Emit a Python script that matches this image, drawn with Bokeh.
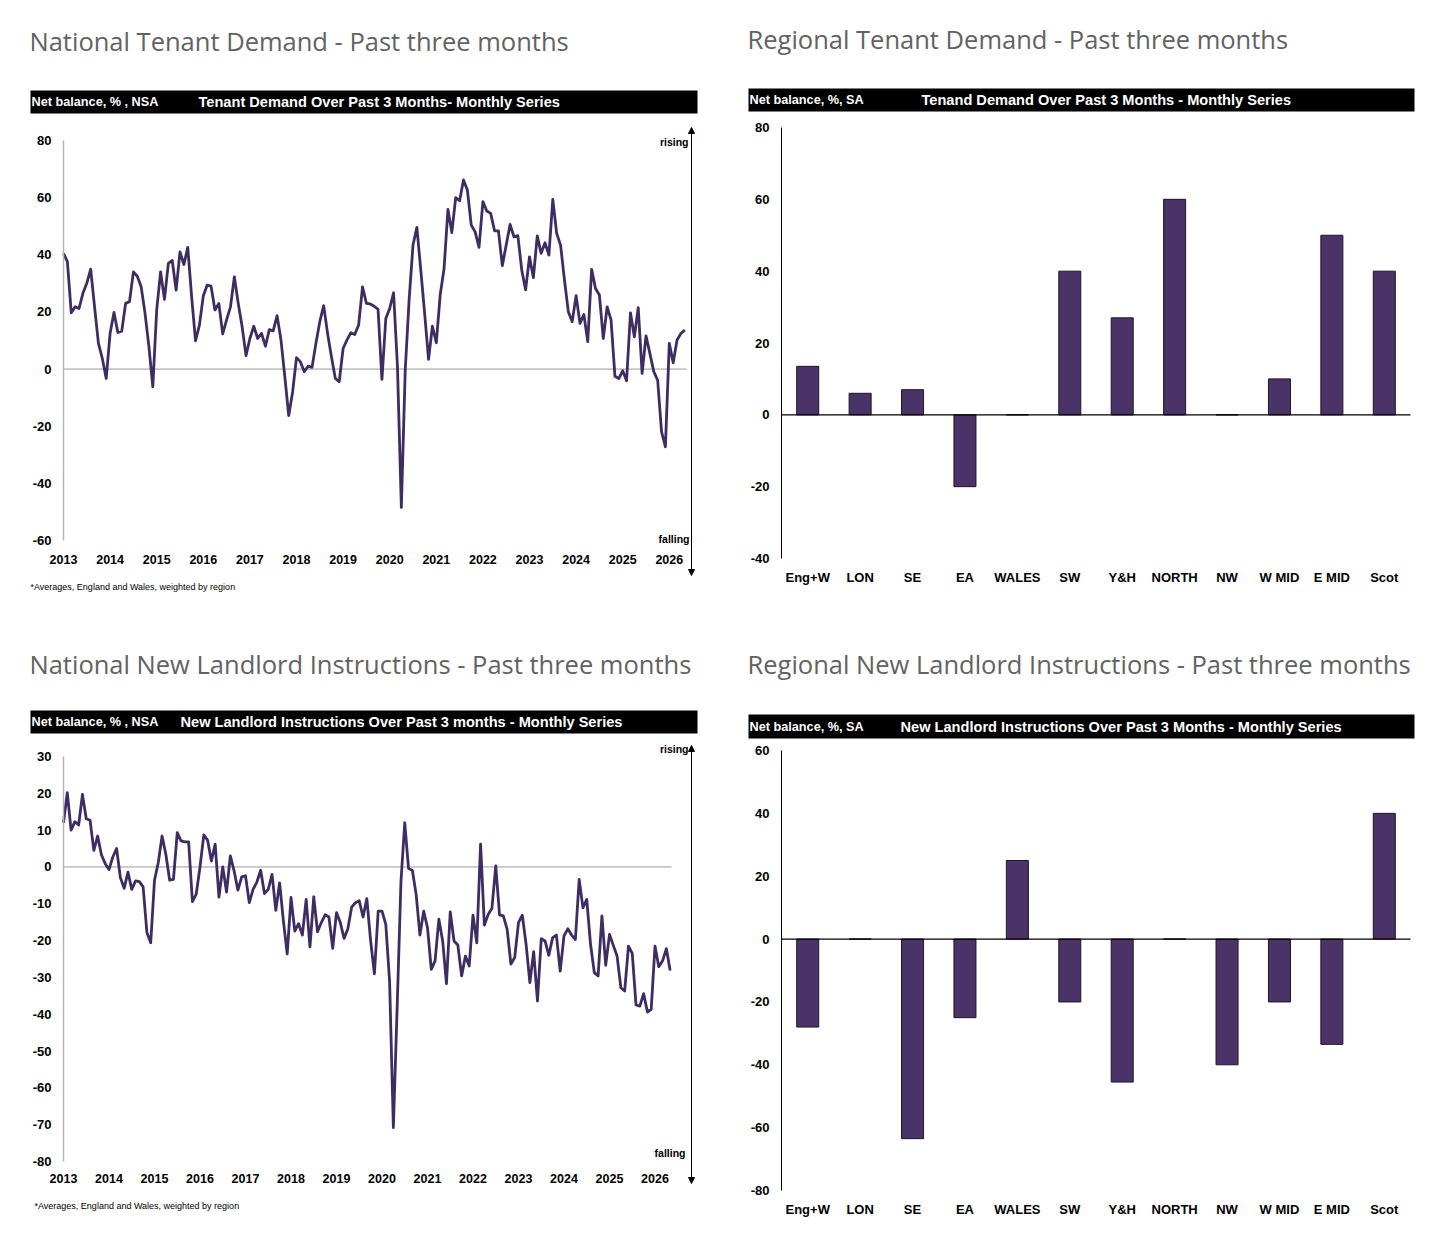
from bokeh.plotting import figure
from bokeh.layouts import column, row
from bokeh.models import (Range1d, FixedTicker, Label, BoxAnnotation, Arrow,
                          NormalHead)
from bokeh.embed import file_html
from bokeh.resources import INLINE

# ---------------------------------------------------------------- data
start_year = 2013
year_ticks = list(range(2013, 2027))

# Tenant demand over past 3 months, net balance %, NSA (monthly from Jan 2013)
tenant_demand = [
    40.5, 37.6, 19.7, 21.8, 21.2, 26.5, 30.0, 35.0, 21.8, 9.0, 3.7, -3.3,
    12.5, 19.8, 12.8, 13.3, 23.0, 23.6, 34.0, 32.5, 28.8, 19.5, 7.8, -6.2,
    20.7, 34.0, 24.4, 37.0, 38.0, 27.6, 41.0, 36.6, 42.6, 25.3, 9.9, 15.4,
    25.6, 29.4, 29.0, 20.7, 23.0, 12.3, 17.2, 21.8, 32.3, 23.0, 14.8, 4.7,
    10.7, 15.0, 10.7, 12.5, 8.0, 13.8, 13.4, 18.7, 10.2, -2.7, -16.3, -8.0,
    4.0, 2.6, -0.9, 1.0, 0.6, 9.0, 16.6, 22.2, 12.5, 4.3, -3.3, -4.4,
    7.2, 10.2, 12.7, 12.1, 15.4, 28.8, 23.0, 22.8, 22.0, 20.9, -3.6, 17.7,
    21.2, 26.7, 0.8, -48.4, -0.4, 24.2, 43.4, 49.6, 34.7, 19.5, 3.4, 15.0,
    9.2, 25.9, 35.2, 55.9, 47.8, 60.0, 58.9, 66.2, 62.7, 50.4, 48.0, 42.6,
    58.6, 55.3, 54.5, 48.4, 48.4, 36.2, 43.4, 50.6, 46.3, 46.7, 34.7, 27.7,
    39.3, 32.0, 46.6, 40.5, 44.2, 39.9, 59.4, 47.5, 43.4, 31.2, 20.1, 16.6,
    25.7, 16.0, 19.1, 9.6, 34.9, 28.2, 25.9, 10.7, 21.8, 17.2, -2.5, -3.3,
    -0.6, -4.1, 19.7, 11.3, 21.5, -1.5, 11.6, 5.5, -0.9, -3.9, -21.9, -27.2,
    9.0, 2.2, 10.2, 12.5, 13.7,
]

# New landlord instructions over past 3 months, net balance %, NSA
landlord_instructions = [
    12.0, 20.2, 10.0, 12.3, 11.4, 19.7, 13.1, 12.7, 4.5, 8.4, 3.3, 0.9,
    -0.7, 2.7, 5.0, -2.9, -5.8, -1.4, -6.1, -3.8, -4.0, -5.4, -17.8, -20.6,
    -3.6, 1.2, 8.4, 3.4, -3.6, -3.4, 9.3, 7.1, 6.8, 6.8, -9.4, -7.4,
    0.0, 8.7, 7.3, 1.6, 6.2, -8.2, 0.0, -6.8, 3.0, -1.1, -6.3, -2.7,
    -2.4, -9.7, -6.1, -4.1, -0.9, -7.2, -6.1, -2.0, -11.8, -4.3, -14.7, -23.6,
    -8.3, -17.4, -15.4, -18.5, -8.8, -21.7, -8.1, -17.6, -15.1, -13.0, -13.6, -22.1,
    -12.4, -15.1, -19.4, -16.8, -10.9, -9.7, -9.2, -13.6, -8.6, -20.1, -29.0, -12.0,
    -12.0, -15.6, -31.0, -70.8, -38.0, -4.0, 12.0, -0.4, -0.9, -7.4, -18.5, -12.0,
    -16.5, -27.8, -25.5, -14.2, -20.1, -31.7, -12.2, -20.1, -21.2, -29.6, -24.2, -26.9,
    -13.1, -20.6, 6.2, -15.8, -12.9, -11.2, 0.3, -13.0, -13.3, -16.9, -26.4, -24.6,
    -15.1, -13.1, -21.0, -31.4, -23.0, -36.4, -19.5, -20.1, -24.0, -19.2, -18.5, -28.3,
    -18.7, -16.8, -18.5, -19.7, -3.4, -11.1, -8.8, -21.0, -28.7, -29.6, -13.3, -26.7,
    -18.3, -21.3, -24.2, -32.8, -33.7, -21.5, -23.5, -37.5, -37.8, -34.4, -39.4, -38.7,
    -21.5, -27.1, -25.5, -22.2, -28.1,
]

regions = ["Eng+W", "LON", "SE", "EA", "WALES", "SW", "Y&H", "NORTH",
           "NW", "W MID", "E MID", "Scot"]
regional_tenant_demand = [13.5, 6, 7, -20, 0, 40, 27, 60, 0, 10, 50, 40]
regional_landlord_instructions = [-28, 0, -63.5, -25, 25, -20, -45.5, 0,
                                  -40, -20, -33.5, 40]

tenant_ticks = [-60, -40, -20, 0, 20, 40, 60, 80]
landlord_ticks = [-80, -70, -60, -50, -40, -30, -20, -10, 0, 10, 20, 30]
reg_tenant_ticks = [-40, -20, 0, 20, 40, 60, 80]
reg_landlord_ticks = [-80, -60, -40, -20, 0, 20, 40, 60]

# ---------------------------------------------------------------- styling
SANS = "Liberation Sans"
TITLE_FONT = "Open Sans"
TITLE_COLOR = "#626262"
LINE_COLOR = "#3f2c62"
BAR_COLOR = "#4a3366"
PW, PH = 725, 626


class Panel:
    """One chart cell.  The canvas frame covers the whole cell; the plot area
    (left/top/right/bottom, page pixels) maps onto the data extents xd/yd."""

    def __init__(self, ox, oy, left, top, right, bottom, xd, yd):
        sx = (xd[1] - xd[0]) / (right - left)
        sy = (yd[1] - yd[0]) / (bottom - top)
        self.ox, self.oy, self.l, self.t = ox, oy, left, top
        self.sx, self.sy, self.xd, self.yd = sx, sy, xd, yd
        xr = (xd[0] - (left - ox) * sx, xd[1] + (ox + PW - right) * sx)
        yr = (yd[0] - (oy + PH - bottom) * sy, yd[1] + (top - oy) * sy)
        p = figure(width=PW, height=PH, x_range=Range1d(*xr),
                   y_range=Range1d(*yr), min_border=0, title=None,
                   output_backend="svg", toolbar_location=None)
        p.outline_line_color = None
        p.grid.visible = False
        p.background_fill_color = "white"
        p.border_fill_color = "white"
        self.fig = p

    def X(self, px):
        return self.xd[0] + (px - self.l) * self.sx

    def Y(self, py):
        return self.yd[1] - (py - self.t) * self.sy

    def text(self, px, py, s, size, color="black", font=SANS, style="bold",
             align="left", baseline="middle"):
        self.fig.add_layout(Label(
            x=self.X(px), y=self.Y(py), text=s, text_font=font,
            text_font_size=f"{size}px", text_font_style=style,
            text_color=color, text_align=align, text_baseline=baseline))

    def title(self, px, py, s):
        self.text(px, py, s, 25.5, color=TITLE_COLOR, font=TITLE_FONT,
                  style="normal")

    def header(self, x0, x1, y0, y1, left_text, main_text, main_x):
        self.fig.add_layout(BoxAnnotation(
            left=self.X(x0), right=self.X(x1), top=self.Y(y0),
            bottom=self.Y(y1), fill_color="black", fill_alpha=1.0,
            line_color=None))
        ym = (y0 + y1) / 2
        self.text(x0 + 1, ym, left_text, 12.7, color="white")
        self.text(main_x, ym, main_text, 14.6, color="white")

    def axes(self, y_ticks, x_ticks, axis_color, x_standoff):
        p = self.fig
        xa, ya = p.xaxis[0], p.yaxis[0]
        for ax in (xa, ya):
            ax.major_tick_line_color = None
            ax.minor_tick_line_color = None
            ax.major_label_text_font = SANS
            ax.major_label_text_font_style = "bold"
            ax.major_label_text_color = "black"
            ax.major_label_text_font_size = "13px"
        ya.fixed_location = self.xd[0]
        ya.bounds = self.yd
        ya.ticker = FixedTicker(ticks=y_ticks)
        ya.major_label_overrides = {v: str(v) for v in y_ticks}
        ya.major_label_standoff = 6
        ya.axis_line_color = axis_color
        ya.axis_line_width = 1.5 if axis_color != "black" else 1
        xa.fixed_location = self.yd[0]
        xa.ticker = FixedTicker(ticks=x_ticks)
        xa.axis_line_color = None
        xa.major_label_standoff = x_standoff


def line_panel(ox, oy, top, bottom, right, px_per_year, y_ext, series, ticks,
               x_standoff, zero_end):
    left = 63
    x_end = start_year + (right - left) / px_per_year
    pan = Panel(ox, oy, left, top, right, bottom, (start_year, x_end), y_ext)
    p = pan.fig
    pan.axes(ticks, year_ticks, "#b4b4b4", x_standoff)
    p.xaxis[0].major_label_text_font_size = "12.5px"
    p.segment(x0=[start_year], y0=[0], x1=[pan.X(zero_end)], y1=[0],
              line_color="#9a9a9a", line_width=1)
    months = [start_year + i / 12 for i in range(len(series))]
    p.line(months, series, line_color=LINE_COLOR, line_width=2.8,
           line_join="round")
    return pan


def bar_panel(ox, oy, top, bottom, y_ext, values, ticks, x_standoff):
    idx = list(range(len(regions)))
    pan = Panel(ox, oy, 781, top, 1410, bottom, (-0.5, len(regions) - 0.5),
                y_ext)
    p = pan.fig
    pan.axes(ticks, idx, "black", x_standoff)
    p.xaxis[0].major_label_overrides = {i: r for i, r in enumerate(regions)}
    p.vbar(x=idx, top=values, bottom=0, width=0.42, fill_color=BAR_COLOR,
           line_color="#20142e", line_width=1)
    p.segment(x0=[-0.5], y0=[0], x1=[len(regions) - 0.5], y1=[0],
              line_color="black", line_width=1.2)
    return pan


def direction_arrow(pan, x, y_top, y_bottom, rise_y, fall_y, rise_x, fall_x):
    head = dict(size=6, fill_color="black", line_color="black")
    pan.fig.add_layout(Arrow(
        x_start=pan.X(x), y_start=pan.Y(y_bottom),
        x_end=pan.X(x), y_end=pan.Y(y_top),
        start=NormalHead(**head), end=NormalHead(**head),
        line_color="black", line_width=1))
    pan.text(rise_x, rise_y, "rising", 10.5, align="right")
    pan.text(fall_x, fall_y, "falling", 10.5, align="right")


FOOTNOTE = "*Averages, England and Wales, weighted by region"

# ---- national tenant demand
tl = line_panel(0, 0, 140, 540, 686, 46.6, (-60, 80), tenant_demand,
                tenant_ticks, 8, 686)
tl.title(29, 40, "National Tenant Demand - Past three months")
tl.header(30, 697, 90, 113, "Net balance, % , NSA",
          "Tenant Demand Over Past 3 Months- Monthly Series", 198)
direction_arrow(tl, 691, 127, 575, 141, 538, 688, 689)
tl.text(30, 586, FOOTNOTE, 9, style="normal")

# ---- regional tenant demand
tr = bar_panel(725, 0, 127, 558, (-40, 80), regional_tenant_demand,
               reg_tenant_ticks, 5)
tr.title(747, 38, "Regional Tenant Demand - Past three months")
tr.header(748, 1414, 88, 111, "Net balance, %, SA",
          "Tenand Demand Over Past 3 Months - Monthly Series", 921)

# ---- national new landlord instructions
bl = line_panel(0, 626, 756, 1161, 671, 45.5, (-80, 30), landlord_instructions,
                landlord_ticks, 6, 671)
bl.title(29, 663, "National New Landlord Instructions - Past three months")
bl.header(30, 697, 710, 733, "Net balance, % , NSA",
          "New Landlord Instructions Over Past 3 months - Monthly Series", 180)
direction_arrow(bl, 691, 745, 1183, 748, 1152, 688, 685)
bl.text(34, 1205, FOOTNOTE, 9, style="normal")

# ---- regional new landlord instructions
br = bar_panel(725, 626, 750, 1190, (-80, 60), regional_landlord_instructions,
               reg_landlord_ticks, 5)
br.title(747, 663, "Regional New Landlord Instructions - Past three months")
br.header(748, 1414, 714, 738, "Net balance, %, SA",
          "New Landlord Instructions Over Past 3 Months - Monthly Series", 900)

layout = column(row(tl.fig, tr.fig), row(bl.fig, br.fig))

with open("out.html", "w") as f:
    f.write(file_html(layout, INLINE, title="Tenant demand and landlord instructions"))
